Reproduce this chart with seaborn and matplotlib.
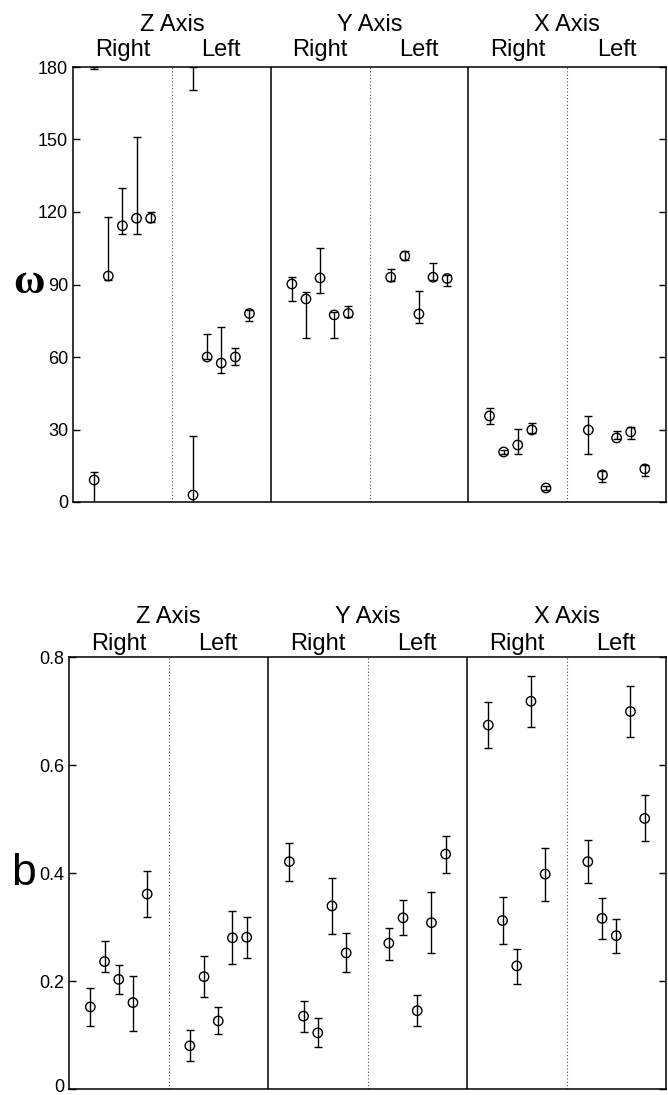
import numpy as np
import pandas as pd
import matplotlib
matplotlib.use("Agg")
import matplotlib.pyplot as plt
import matplotlib.transforms as mtransforms
import seaborn as sns

# ---- data ----
axis_names = ["Z Axis", "Y Axis", "X Axis"]
sides = ["Right", "Left"]
n_subjects = 5

# omega (deg), 5 subjects per group: Z-R, Z-L, Y-R, Y-L, X-R, X-L
omega_mean = [9.1, 93.5, 114.3, 117.4, 117.4,
              2.9, 60.0, 57.5, 60.0, 78.0,
              90.2, 84.0, 92.7, 77.4, 78.0,
              93.0, 101.8, 77.8, 93.0, 92.5,
              35.6, 20.7, 23.6, 29.8, 5.8,
              29.8, 11.2, 26.5, 29.0, 13.7]
omega_low = [-1.0, 92.0, 110.8, 110.8, 116.0,
             -9.5, 59.0, 53.4, 56.7, 75.0,
             83.0, 68.0, 86.5, 68.0, 76.5,
             91.5, 100.2, 74.0, 92.0, 89.5,
             32.3, 19.8, 19.9, 28.5, 4.9,
             19.9, 8.3, 26.0, 26.0, 10.8]
omega_high = [12.4, 118.0, 129.8, 151.0, 120.0,
              27.3, 69.5, 72.4, 63.7, 79.4,
              93.0, 87.0, 105.0, 78.8, 81.0,
              96.4, 104.0, 87.3, 99.0, 94.0,
              38.9, 21.5, 30.2, 32.7, 6.5,
              35.6, 13.0, 29.4, 31.0, 15.5]

b_mean = [0.152, 0.236, 0.203, 0.160, 0.361,
          0.080, 0.208, 0.126, 0.280, 0.281,
          0.421, 0.135, 0.104, 0.339, 0.252,
          0.270, 0.317, 0.145, 0.308, 0.435,
          0.674, 0.312, 0.228, 0.718, 0.398,
          0.421, 0.316, 0.284, 0.699, 0.501]
b_low = [0.117, 0.216, 0.176, 0.108, 0.319,
         0.052, 0.171, 0.101, 0.232, 0.242,
         0.386, 0.106, 0.077, 0.287, 0.217,
         0.239, 0.285, 0.117, 0.252, 0.400,
         0.632, 0.268, 0.194, 0.671, 0.348,
         0.382, 0.278, 0.251, 0.651, 0.460]
b_high = [0.187, 0.275, 0.230, 0.210, 0.404,
          0.109, 0.246, 0.151, 0.329, 0.319,
          0.455, 0.163, 0.132, 0.390, 0.288,
          0.299, 0.350, 0.174, 0.364, 0.468,
          0.717, 0.355, 0.260, 0.765, 0.447,
          0.461, 0.354, 0.315, 0.747, 0.544]

omega_ticks = [0, 30, 60, 90, 120, 150, 180]
b_ticks = [0, 0.2, 0.4, 0.6, 0.8]
b_ticklabels = ["0", "0.2", "0.4", "0.6", "0.8"]

sns.set_style("white")
plt.rcParams["font.family"] = ["Liberation Sans", "DejaVu Sans"]
plt.rcParams["text.color"] = "black"
plt.rcParams["ytick.color"] = "black"
plt.rcParams["ytick.labelcolor"] = "black"

W, H = 668, 1095
GW = 7  # width of one Right/Left block in x units


def make_frame(mean, low, high):
    rows = []
    k = 0
    for a_idx, a in enumerate(axis_names):
        for s_idx, s in enumerate(sides):
            g = a_idx * 2 + s_idx
            for i in range(n_subjects):
                rows.append(dict(axis=a, side=s, pos=g * GW + 1.5 + i,
                                 mean=mean[k], low=low[k], high=high[k]))
                k += 1
    return pd.DataFrame(rows)


def draw_panel(ax, df, ylim, head_px, sub_px):
    ax.errorbar(df["pos"], df["mean"],
                yerr=[df["mean"] - df["low"], df["high"] - df["mean"]],
                fmt="none", ecolor="black", elinewidth=1.0,
                capsize=3.2, capthick=1.0, zorder=2)
    sns.scatterplot(data=df, x="pos", y="mean", ax=ax, marker="o", s=46,
                    facecolor="none", edgecolor="black", linewidth=1.0,
                    zorder=3, legend=False)

    # block separators
    for g in range(1, 6):
        if g % 2 == 0:
            ax.axvline(g * GW, color="black", lw=1.1, zorder=1)
        else:
            ax.axvline(g * GW, color="0.3", lw=0.8, ls=(0, (1, 2)), zorder=1)

    ax.set_xlim(0, 6 * GW)
    ax.set_ylim(*ylim)
    ax.set_xticks([])
    ax.set_xlabel("")
    ax.set_ylabel("")
    for sp in ax.spines.values():
        sp.set_visible(True)
        sp.set_color("black")
        sp.set_linewidth(1.1)
    ax.tick_params(axis="y", direction="in", length=5, width=1.0,
                   left=True, right=True, labelsize=13, pad=3.5,
                   colors="black", labelcolor="black")

    # headings above each block
    ax_h = ax.get_position().height * H
    trans = mtransforms.blended_transform_factory(ax.transData, ax.transAxes)
    for a_idx, a in enumerate(axis_names):
        ax.text((a_idx * 2 + 1) * GW, 1 + head_px / ax_h, a, transform=trans,
                ha="center", va="baseline", fontsize=17, color="black")
        for s_idx, s in enumerate(sides):
            ax.text((a_idx * 2 + s_idx + 0.5) * GW, 1 + sub_px / ax_h, s,
                    transform=trans, ha="center", va="baseline", fontsize=17,
                    color="black")


fig = plt.figure(figsize=(W / 100, H / 100), dpi=100)

ax1 = fig.add_axes([73 / W, 1 - 502 / H, 593 / W, 435 / H])
ax2 = fig.add_axes([69 / W, 1 - 1089 / H, 597 / W, 432 / H])

omega_df = make_frame(omega_mean, omega_low, omega_high)
b_df = make_frame(b_mean, b_low, b_high)

draw_panel(ax1, omega_df, (0, 180), 36, 11)
ax1.set_yticks(omega_ticks)

# lower error bars below 0 wrap around to the top of the angle range
wrap = omega_df[omega_df["low"] < 0]
ax1.errorbar(wrap["pos"], [180] * len(wrap),
             yerr=[-wrap["low"], [0] * len(wrap)],
             fmt="none", ecolor="black", elinewidth=1.0,
             capsize=3.2, capthick=1.0, zorder=2)

draw_panel(ax2, b_df, (0, 0.8), 34, 7)
ax2.set_yticks(b_ticks)
ax2.set_yticklabels(b_ticklabels)

# keep the bottom "0" label inside the canvas
zero_lab = ax2.get_yticklabels()[0]
zero_lab.set_transform(zero_lab.get_transform() +
                       mtransforms.ScaledTranslation(0, 3 / 100, fig.dpi_scale_trans))

fig.text(29 / W, 1 - 293 / H, "\u03c9", ha="center", va="baseline",
         fontsize=31, family=["Liberation Serif", "DejaVu Serif"], fontweight="bold")
fig.text(24 / W, 1 - 885 / H, "b", ha="center", va="baseline", fontsize=32)

fig.savefig("out.png", dpi=100)
